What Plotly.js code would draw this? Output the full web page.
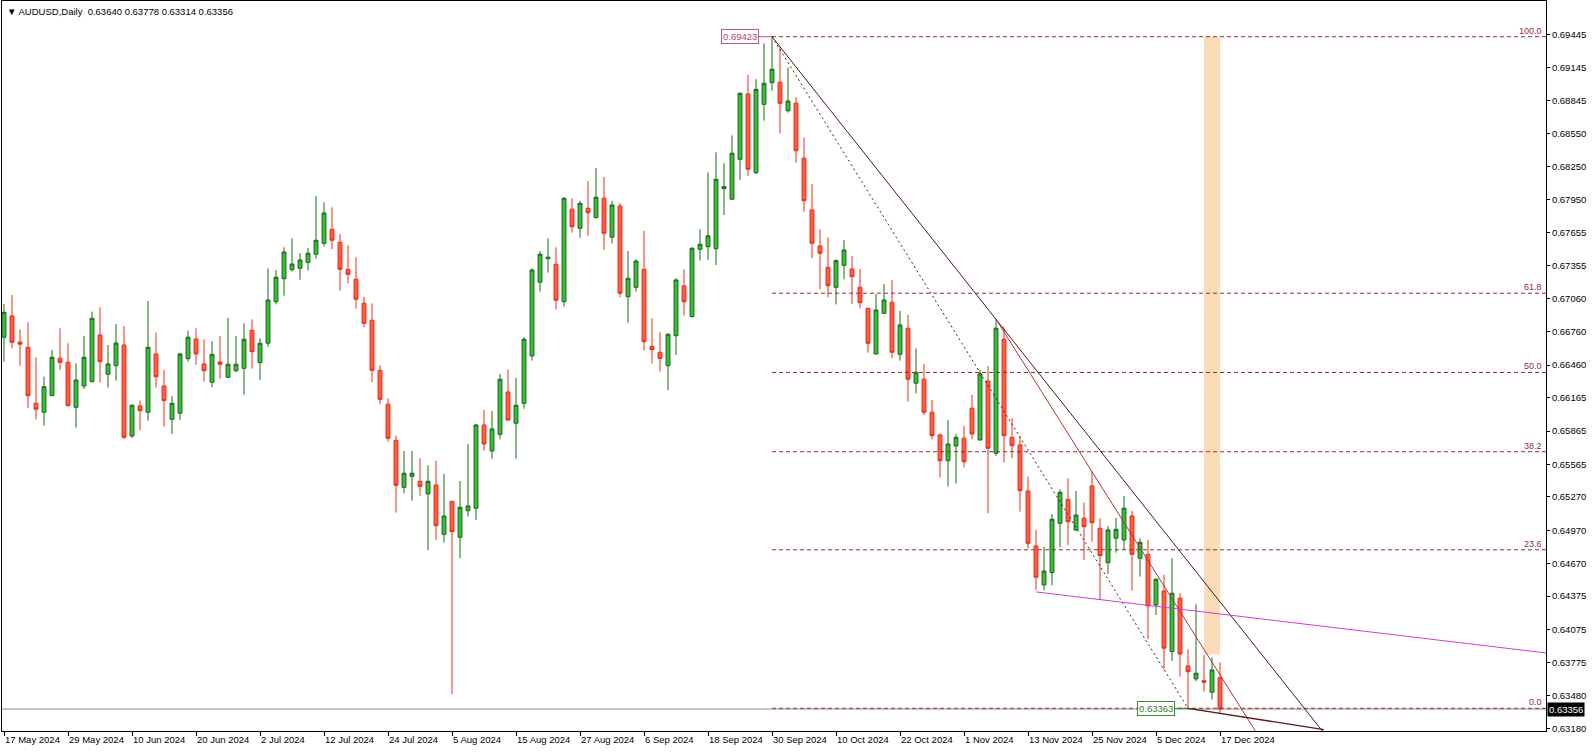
<!DOCTYPE html>
<html>
<head>
<meta charset="utf-8">
<script src="https://cdn.plot.ly/plotly-3.0.1.min.js"></script>
<style>
  html, body { margin: 0; padding: 0; background: #fff; }
  #chart { width: 1592px; height: 752px; }
</style>
</head>
<body>
<div id="chart"></div>
<script>
// AUDUSD daily bars, one per weekday from 17 May 2024 to 17 Dec 2024
var opens = [
  0.66711, 0.66903, 0.66668, 0.66620, 0.66115, 0.66034, 0.66184, 0.66521, 0.66485, 0.66079,
  0.66271, 0.66310, 0.66731, 0.66377, 0.66454, 0.66641, 0.65820, 0.66091, 0.66034, 0.66560,
  0.66271, 0.65971, 0.66025, 0.66518, 0.66695, 0.66470, 0.66305, 0.66488, 0.66350, 0.66409,
  0.66431, 0.66774, 0.66482, 0.66657, 0.67032, 0.67239, 0.67321, 0.67333, 0.67387, 0.67460,
  0.67559, 0.67685, 0.67568, 0.67324, 0.67234, 0.67017, 0.66864, 0.66413, 0.66106, 0.65781,
  0.65357, 0.65456, 0.65411, 0.65297, 0.65378, 0.64933, 0.65230, 0.64906, 0.65146, 0.65168,
  0.65919, 0.65685, 0.65835, 0.66217, 0.65935, 0.66115, 0.66542, 0.67207, 0.67420, 0.67369,
  0.67032, 0.67866, 0.67694, 0.67875, 0.67790, 0.67965, 0.67613, 0.67895, 0.67077, 0.67162,
  0.67324, 0.66629, 0.66575, 0.66454, 0.66725, 0.67174, 0.66897, 0.67505, 0.67528, 0.67510,
  0.68052, 0.67956, 0.68317, 0.68906, 0.68196, 0.68813, 0.69008, 0.69012, 0.68755, 0.68822,
  0.68326, 0.67859, 0.67534, 0.67342, 0.67162, 0.67360, 0.67327, 0.67162, 0.66972, 0.66560,
  0.66927, 0.67026, 0.66557, 0.66792, 0.66296, 0.66332, 0.66034, 0.65829, 0.65597, 0.65730,
  0.65799, 0.66070, 0.65784, 0.66316, 0.65664, 0.66693, 0.65808, 0.65739, 0.65324, 0.64828,
  0.64476, 0.64587, 0.65032, 0.65249, 0.64972, 0.65078, 0.65369, 0.64987, 0.64677, 0.64897,
  0.64882, 0.65098, 0.64717, 0.64753, 0.64295, 0.64422, 0.63874, 0.64356, 0.63745, 0.63628,
  0.63612, 0.63508, 0.63640
];
var highs = [
  0.67011, 0.67092, 0.66783, 0.66846, 0.66530, 0.66355, 0.66596, 0.66792, 0.66657, 0.66476,
  0.66722, 0.66942, 0.66981, 0.66641, 0.66831, 0.66813, 0.66106, 0.66139, 0.67038, 0.66752,
  0.66416, 0.66181, 0.66572, 0.66770, 0.66792, 0.66693, 0.66675, 0.66722, 0.66885, 0.66722,
  0.66837, 0.66873, 0.66702, 0.67333, 0.67318, 0.67523, 0.67604, 0.67469, 0.67516, 0.67986,
  0.67929, 0.67884, 0.67643, 0.67541, 0.67433, 0.67077, 0.67017, 0.66458, 0.66160, 0.65823,
  0.65685, 0.65685, 0.65619, 0.65556, 0.65595, 0.65477, 0.65236, 0.65414, 0.65748, 0.65928,
  0.66055, 0.66046, 0.66380, 0.66422, 0.66343, 0.66711, 0.67333, 0.67489, 0.67604, 0.67523,
  0.67974, 0.67966, 0.67943, 0.68121, 0.68238, 0.68157, 0.67943, 0.67920, 0.67489, 0.67414,
  0.67670, 0.66882, 0.66756, 0.66747, 0.67243, 0.67324, 0.67523, 0.67685, 0.68199, 0.68380,
  0.68281, 0.68533, 0.68921, 0.69077, 0.69039, 0.69363, 0.69423, 0.69333, 0.69147, 0.68876,
  0.68515, 0.68094, 0.67685, 0.67613, 0.67414, 0.67589, 0.67443, 0.67327, 0.66975, 0.67101,
  0.67192, 0.67228, 0.66948, 0.66912, 0.66611, 0.66470, 0.66145, 0.65844, 0.65964, 0.65838,
  0.65910, 0.66190, 0.66416, 0.66452, 0.66873, 0.66806, 0.65980, 0.65814, 0.65453, 0.64972,
  0.64821, 0.65116, 0.65339, 0.65438, 0.65324, 0.65218, 0.65498, 0.65078, 0.65008, 0.65083,
  0.65279, 0.65143, 0.64897, 0.64882, 0.64536, 0.64566, 0.64717, 0.64401, 0.63896, 0.64302,
  0.63844, 0.63823, 0.63778
];
var lows = [
  0.66491, 0.66611, 0.66454, 0.66070, 0.65971, 0.65913, 0.66180, 0.66416, 0.66085, 0.65895,
  0.66244, 0.66305, 0.66301, 0.66256, 0.66319, 0.65793, 0.65802, 0.65874, 0.65958, 0.66256,
  0.65904, 0.65838, 0.65964, 0.66491, 0.66461, 0.66310, 0.66260, 0.66337, 0.66341, 0.66395,
  0.66193, 0.66427, 0.66325, 0.66626, 0.67008, 0.67086, 0.67303, 0.67230, 0.67312, 0.67420,
  0.67528, 0.67507, 0.67131, 0.67198, 0.66969, 0.66801, 0.66305, 0.66106, 0.65769, 0.65128,
  0.65303, 0.65236, 0.65281, 0.64791, 0.64882, 0.64857, 0.63490, 0.64717, 0.65092, 0.65062,
  0.65688, 0.65615, 0.65790, 0.65958, 0.65615, 0.66066, 0.66500, 0.67122, 0.67294, 0.66963,
  0.66987, 0.67654, 0.67609, 0.67627, 0.67784, 0.67498, 0.67559, 0.67072, 0.66842, 0.67122,
  0.66590, 0.66476, 0.66400, 0.66235, 0.66551, 0.66906, 0.66891, 0.67402, 0.67408, 0.67363,
  0.67814, 0.67954, 0.68130, 0.68169, 0.68184, 0.68665, 0.68936, 0.68551, 0.68737, 0.68286,
  0.67844, 0.67424, 0.67144, 0.67072, 0.67008, 0.67234, 0.67011, 0.66972, 0.66572, 0.66556,
  0.66921, 0.66521, 0.66500, 0.66130, 0.66205, 0.66010, 0.65790, 0.65447, 0.65363, 0.65393,
  0.65538, 0.65790, 0.65778, 0.65123, 0.65640, 0.65579, 0.65619, 0.65137, 0.64807, 0.64431,
  0.64428, 0.64473, 0.64816, 0.64837, 0.64963, 0.64701, 0.64866, 0.64340, 0.64575, 0.64767,
  0.64791, 0.64424, 0.64551, 0.63986, 0.64205, 0.63715, 0.63790, 0.63648, 0.63363, 0.63609,
  0.63513, 0.63444, 0.63314
];
var closes = [
  0.66936, 0.66666, 0.66648, 0.66184, 0.66061, 0.66265, 0.66530, 0.66485, 0.66094, 0.66325,
  0.66530, 0.66882, 0.66491, 0.66470, 0.66659, 0.65808, 0.66097, 0.66048, 0.66620, 0.66355,
  0.66139, 0.66115, 0.66560, 0.66711, 0.66560, 0.66409, 0.66557, 0.66467, 0.66467, 0.66467,
  0.66693, 0.66581, 0.66657, 0.67047, 0.67252, 0.67480, 0.67372, 0.67408, 0.67469, 0.67586,
  0.67832, 0.67586, 0.67324, 0.67279, 0.67054, 0.66837, 0.66413, 0.66151, 0.65799, 0.65375,
  0.65484, 0.65484, 0.65366, 0.65411, 0.65011, 0.65098, 0.64957, 0.65177, 0.65189, 0.65919,
  0.65748, 0.65884, 0.66332, 0.65964, 0.66097, 0.66693, 0.67318, 0.67460, 0.67433, 0.67045,
  0.67965, 0.67709, 0.67920, 0.67835, 0.67974, 0.67649, 0.67904, 0.67108, 0.67243, 0.67399,
  0.66671, 0.66599, 0.66521, 0.66738, 0.67228, 0.67032, 0.67514, 0.67550, 0.67627, 0.68136,
  0.68070, 0.68371, 0.68912, 0.68227, 0.68948, 0.69003, 0.69129, 0.68822, 0.68843, 0.68394,
  0.67943, 0.67559, 0.67469, 0.67176, 0.67402, 0.67498, 0.67257, 0.67023, 0.66657, 0.66957,
  0.67047, 0.66575, 0.66822, 0.66332, 0.66395, 0.66034, 0.65823, 0.65597, 0.65748, 0.65808,
  0.65588, 0.65838, 0.66380, 0.65709, 0.66792, 0.65823, 0.65733, 0.65327, 0.64852, 0.64545,
  0.64602, 0.65069, 0.65312, 0.65047, 0.65107, 0.65002, 0.65038, 0.64740, 0.64972, 0.64978,
  0.65168, 0.64753, 0.64861, 0.64286, 0.64527, 0.63905, 0.64401, 0.63853, 0.63693, 0.63679,
  0.63598, 0.63709, 0.63356
];

// date labels, one every 8 bars
var dateLabels = ['17 May 2024', '29 May 2024', '10 Jun 2024', '20 Jun 2024', '2 Jul 2024',
  '12 Jul 2024', '24 Jul 2024', '5 Aug 2024', '15 Aug 2024', '27 Aug 2024', '6 Sep 2024',
  '18 Sep 2024', '30 Sep 2024', '10 Oct 2024', '22 Oct 2024', '1 Nov 2024', '13 Nov 2024',
  '25 Nov 2024', '5 Dec 2024', '17 Dec 2024'];
var priceLabels = ['0.69445', '0.69145', '0.68845', '0.68550', '0.68250', '0.67950', '0.67655',
  '0.67355', '0.67060', '0.66760', '0.66460', '0.66165', '0.65865', '0.65565', '0.65270',
  '0.64970', '0.64670', '0.64375', '0.64075', '0.63775', '0.63480', '0.63180'];

// drawing objects on the chart
var fibLevels = [0, 23.6, 38.2, 50, 61.8, 100];
var swingHighBar = 96, swingLowBar = 148;
var trendBars = [96, 124];        // upper resistance line through two highs
var steepBars = [124, 136];       // steeper line through two highs
var baseLineEnd = [165, 0.63170]; // line from the swing low
var magentaLine = [[129, 0.64413], [192.75, 0.63862]];
var zoneBars = [150, 152], zoneLow = 0.63848;

var xRange = [-0.25, 192.75];
var yRange = [0.63158, 0.69745];
var FONT = 'Liberation Sans, Arial, sans-serif';

var bars = opens.map(function (o, i) { return i; });
var last = opens.length - 1;
var fibHigh = highs[swingHighBar], fibLow = lows[swingLowBar];

function extend(x0, y0, x1, y1, xTo) {
    return y0 + (y1 - y0) * (xTo - x0) / (x1 - x0);
}

var shapes = [];
shapes.push({
    type: 'rect', xref: 'x', yref: 'y', layer: 'below',
    x0: zoneBars[0], x1: zoneBars[1], y0: zoneLow, y1: fibHigh,
    fillcolor: '#fcdcb8', line: {width: 0}
});
shapes.push({
    type: 'line', xref: 'paper', yref: 'y', layer: 'below',
    x0: 0, x1: 1, y0: closes[last], y1: closes[last],
    line: {color: '#8c8c8c', width: 1}
});
fibLevels.forEach(function (lv) {
    var p = fibLow + (fibHigh - fibLow) * lv / 100;
    shapes.push({
        type: 'line', xref: 'x', yref: 'y',
        x0: swingHighBar, x1: xRange[1], y0: p, y1: p,
        line: {color: '#8e3030', width: 1, dash: '4px,3px'}
    });
});
shapes.push({
    type: 'line', xref: 'x', yref: 'y',
    x0: swingHighBar, y0: fibHigh, x1: swingLowBar, y1: fibLow,
    line: {color: '#3a2525', width: 1, dash: '2px,3px'}
});
var tEnd = 175;
shapes.push({
    type: 'line', xref: 'x', yref: 'y',
    x0: trendBars[0], y0: highs[trendBars[0]], x1: tEnd,
    y1: extend(trendBars[0], highs[trendBars[0]], trendBars[1], highs[trendBars[1]], tEnd),
    line: {color: '#4a1a1a', width: 1}
});
shapes.push({
    type: 'line', xref: 'x', yref: 'y',
    x0: steepBars[0], y0: highs[steepBars[0]], x1: tEnd,
    y1: extend(steepBars[0], highs[steepBars[0]], steepBars[1], highs[steepBars[1]], tEnd),
    line: {color: '#b83232', width: 1}
});
shapes.push({
    type: 'line', xref: 'x', yref: 'y',
    x0: swingLowBar, y0: fibLow, x1: baseLineEnd[0], y1: baseLineEnd[1],
    line: {color: '#5a1818', width: 1.3}
});
shapes.push({
    type: 'line', xref: 'x', yref: 'y',
    x0: magentaLine[0][0], y0: magentaLine[0][1], x1: magentaLine[1][0], y1: magentaLine[1][1],
    line: {color: '#d23cd2', width: 1}
});

var annotations = [];
annotations.push({
    xref: 'paper', yref: 'paper', x: 0, y: 1, xanchor: 'left', yanchor: 'top',
    xshift: 3, yshift: -3, showarrow: false,
    text: '\u25BC AUDUSD,Daily  ' + [opens[last], highs[last], lows[last], closes[last]]
        .map(function (v) { return v.toFixed(5); }).join(' '),
    font: {family: FONT, size: 9.5, color: '#000'}
});
fibLevels.forEach(function (lv) {
    var p = fibLow + (fibHigh - fibLow) * lv / 100;
    annotations.push({
        xref: 'paper', yref: 'y', x: 1, y: p, xanchor: 'right', yanchor: 'bottom',
        xshift: -2, yshift: -1, showarrow: false, text: lv.toFixed(1),
        font: {family: FONT, size: 9, color: '#8e3030'}
    });
});
annotations.push({
    xref: 'x', yref: 'y', x: swingHighBar, y: fibHigh, text: fibHigh.toFixed(5),
    showarrow: true, arrowhead: 0, arrowwidth: 1, arrowcolor: '#c0508a', ax: -32, ay: 0, standoff: 0,
    bordercolor: '#c0508a', borderwidth: 1, borderpad: 1, bgcolor: '#fff',
    font: {family: FONT, size: 9.5, color: '#b8406e'}
});
annotations.push({
    xref: 'x', yref: 'y', x: swingLowBar, y: fibLow, text: fibLow.toFixed(5),
    showarrow: true, arrowhead: 0, arrowwidth: 1, arrowcolor: '#3a8a3a', ax: -32, ay: 0, standoff: 0,
    bordercolor: '#3a8a3a', borderwidth: 1, borderpad: 1, bgcolor: '#fff',
    font: {family: FONT, size: 9.5, color: '#2f7a2f'}
});
annotations.push({
    xref: 'paper', yref: 'y', x: 1, y: closes[last], xanchor: 'left', xshift: 1,
    showarrow: false, text: closes[last].toFixed(5), bgcolor: '#000', borderpad: 1,
    font: {family: FONT, size: 9.5, color: '#fff'}
});

var trace = {
    type: 'candlestick',
    x: bars, open: opens, high: highs, low: lows, close: closes,
    increasing: {line: {color: '#1d6a1d', width: 1}, fillcolor: '#3cb93c'},
    decreasing: {line: {color: '#e3321f', width: 1}, fillcolor: '#ff5a44'},
    whiskerwidth: 0,
    hoverinfo: 'skip'
};

var layout = {
    width: 1592, height: 752,
    margin: {l: 2, r: 46, t: 1, b: 21},
    paper_bgcolor: '#fff', plot_bgcolor: '#fff',
    showlegend: false,
    font: {family: FONT, size: 9.5, color: '#000'},
    xaxis: {
        range: xRange, type: 'linear',
        tickvals: dateLabels.map(function (d, k) { return k * 8; }), ticktext: dateLabels,
        ticks: 'outside', ticklen: 4, tickcolor: '#000', tickwidth: 1,
        ticklabelposition: 'outside right',
        showline: true, linecolor: '#000', linewidth: 1, mirror: true,
        showgrid: false, zeroline: false, fixedrange: true,
        rangeslider: {visible: false},
        tickfont: {family: FONT, size: 9.5, color: '#000'}
    },
    yaxis: {
        side: 'right', range: yRange,
        tickvals: priceLabels.map(Number), ticktext: priceLabels,
        ticks: 'outside', ticklen: 3, tickcolor: '#000', tickwidth: 1,
        showline: true, linecolor: '#000', linewidth: 1, mirror: true,
        showgrid: false, zeroline: false, fixedrange: true,
        tickfont: {family: FONT, size: 9.5, color: '#000'}
    },
    shapes: shapes,
    annotations: annotations
};

Plotly.newPlot('chart', [trace], layout, {staticPlot: true, displayModeBar: false});
</script>
</body>
</html>
